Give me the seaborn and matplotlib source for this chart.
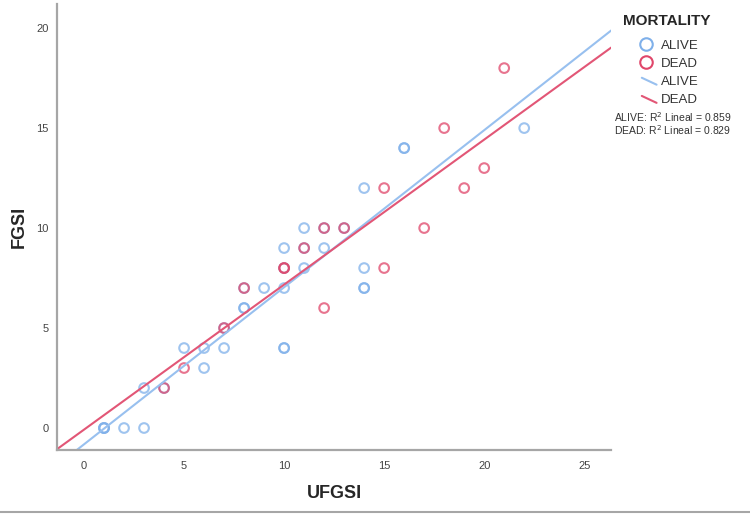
import pandas as pd
import matplotlib.pyplot as plt
import seaborn as sns
from matplotlib.lines import Line2D
from matplotlib.legend_handler import HandlerBase

# values (UFGSI, FGSI) per mortality group
alive_ufgsi = [1, 1, 1, 2, 3, 3, 4, 5, 6, 6, 7, 7, 8, 8, 8, 9, 10, 10, 10, 10, 10, 11, 11, 11,
               12, 12, 13, 14, 14, 14, 14, 16, 16, 22]
alive_fgsi = [0, 0, 0, 0, 0, 2, 2, 4, 4, 3, 4, 5, 6, 6, 7, 7, 7, 9, 4, 4, 8, 8, 10, 9,
              9, 10, 10, 12, 8, 7, 7, 14, 14, 15]
dead_ufgsi = [4, 5, 7, 8, 10, 10, 11, 12, 13, 12, 15, 15, 17, 18, 19, 20, 21]
dead_fgsi = [2, 3, 5, 7, 8, 8, 9, 10, 10, 6, 12, 8, 10, 15, 12, 13, 18]
groups = ['ALIVE', 'DEAD']
r2_labels = ['ALIVE: R$^2$ Lineal = 0.859', 'DEAD: R$^2$ Lineal = 0.829']
x_ticks = [0, 5, 10, 15, 20, 25]
y_ticks = [0, 5, 10, 15, 20]

df = pd.DataFrame({
    'UFGSI': alive_ufgsi + dead_ufgsi,
    'FGSI': alive_fgsi + dead_fgsi,
    'MORTALITY': ['ALIVE'] * len(alive_ufgsi) + ['DEAD'] * len(dead_ufgsi),
})

pt_colors = {'ALIVE': '#7fb0ea', 'DEAD': '#e0466a'}
ln_colors = {'ALIVE': '#98c0ef', 'DEAD': '#e25676'}


# SPSS draws the fit-line legend keys as short diagonal strokes
class DiagHandler(HandlerBase):
    def create_artists(self, legend, orig_handle, xdescent, ydescent,
                       width, height, fontsize, trans):
        x0, y0 = -xdescent, -ydescent
        ln = Line2D([x0 + width * 0.3, x0 + width], [y0 + height * 0.8, y0 + height * 0.05],
                    color=orig_handle.get_color(), lw=orig_handle.get_linewidth())
        ln.set_transform(trans)
        return [ln]


sns.set_style('white')
plt.rcParams['font.family'] = ['Liberation Sans', 'DejaVu Sans']

fig = plt.figure(figsize=(7.5, 5.14), dpi=100)
ax = fig.add_axes([0.076, 0.1245, 0.739, 0.8675])
ax.set_xlim(-1.35, 26.35)
ax.set_ylim(-1.1, 21.2)

for g in groups:
    sub = df[df['MORTALITY'] == g]
    sns.regplot(data=sub, x='UFGSI', y='FGSI', ax=ax, ci=None, truncate=False,
                color=pt_colors[g],
                scatter_kws={'facecolors': 'none', 'edgecolors': pt_colors[g],
                             'linewidths': 1.5, 's': 48, 'alpha': 0.75},
                line_kws={'color': ln_colors[g], 'linewidth': 1.5})

ax.set_xlim(-1.35, 26.35)
ax.set_ylim(-1.1, 21.2)
ax.set_xticks(x_ticks)
ax.set_yticks(y_ticks)
ax.tick_params(axis='both', length=0, labelsize=8, labelcolor='#444444')
ax.tick_params(axis='x', pad=8)
ax.tick_params(axis='y', pad=6)
for s in ['top', 'right']:
    ax.spines[s].set_visible(False)
for s in ['left', 'bottom']:
    ax.spines[s].set_color('#a6a6a6')
    ax.spines[s].set_linewidth(1.6)
ax.set_xlabel('UFGSI', fontsize=13, fontweight='bold', labelpad=10)
ax.set_ylabel('FGSI', fontsize=13, fontweight='bold', labelpad=6)

handles = [Line2D([], [], marker='o', ls='none', mfc='none', mec=pt_colors[g], mew=1.5, ms=9)
           for g in groups]
line_handles = [Line2D([], [], color=ln_colors[g], lw=1.5) for g in groups]
handles += line_handles
leg = fig.legend(handles, groups + groups, title='MORTALITY', loc='upper left',
                 bbox_to_anchor=(0.815, 0.995), frameon=False, fontsize=9.5,
                 handlelength=1.6, handletextpad=0.3, labelspacing=0.45,
                 handler_map={h: DiagHandler() for h in line_handles},
                 title_fontproperties={'weight': 'bold', 'size': 11})
leg._legend_box.sep = 8
for t in leg.get_texts():
    t.set_color('#333333')

for i, lab in enumerate(r2_labels):
    fig.text(0.818, 0.762 - i * 0.024, lab, fontsize=7.5, color='#333333')

fig.add_artist(Line2D([0, 1], [0.003, 0.003], color='#a6a6a6', lw=1.5))

plt.savefig('out.png', dpi=100)
